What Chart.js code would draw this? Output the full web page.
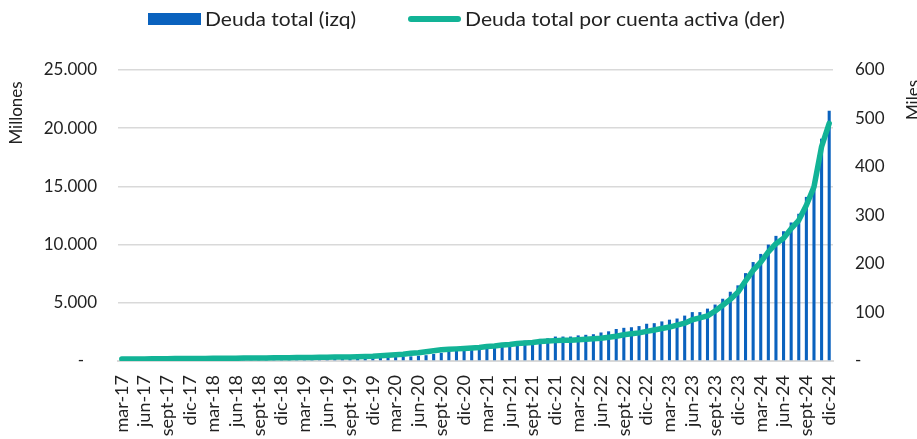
<!DOCTYPE html>
<html>
<head>
<meta charset="utf-8">
<script src="https://cdn.jsdelivr.net/npm/chart.js@4/dist/chart.umd.min.js"></script>
<style>
  html, body { margin: 0; padding: 0; background: #fff; }
  #wrap { width: 917px; height: 439px; }
</style>
</head>
<body>
<div id="wrap"><canvas id="chart"></canvas></div>
<script>
const meses = ['ene', 'feb', 'mar', 'abr', 'may', 'jun', 'jul', 'ago', 'sept', 'oct', 'nov', 'dic'];
const anios = ['17', '18', '19', '20', '21', '22', '23', '24'];

// Deuda total, millones (eje izquierdo), mar-17 .. dic-24
const deudaTotal = [
    90, 95, 100, 105, 110, 115, 120, 125, 130, 135,
    140, 145, 150, 155, 160, 165, 170, 175, 180, 185, 190, 195,
    200, 205, 210, 215, 220, 225, 230, 240, 250, 260, 270, 285,
    300, 320, 340, 360, 400, 450, 500, 600, 700, 800, 900, 950,
    1000, 1100, 1300, 1350, 1500, 1550, 1650, 1750, 1800, 1900, 1950, 2100,
    2100, 2100, 2200, 2250, 2300, 2450, 2550, 2750, 2850, 2900, 3000, 3200,
    3250, 3400, 3550, 3650, 3900, 4200, 4200, 4500, 4850, 5350, 5950, 6500,
    7550, 8500, 9200, 10000, 10750, 11150, 11900, 12650, 14100, 14900, 19100, 21500
];

// Deuda total por cuenta activa, miles (eje derecho)
const deudaPorCuenta = [
    4, 4, 4, 4, 4.5, 4.5, 4.5, 5, 5, 5,
    5, 5, 5.5, 5.5, 5.5, 5.5, 6, 6, 6, 6, 6.5, 6.5,
    6.5, 7, 7, 7, 7.5, 7.5, 8, 8, 8.5, 9, 9.5, 10,
    11, 12, 13, 14, 16, 17, 19, 21, 23, 24, 25, 26,
    27, 28, 30, 31, 33, 34, 36, 37, 38, 40, 41, 42,
    43, 43, 44, 45, 46, 47, 49, 51, 54, 56, 58, 61,
    64, 67, 70, 74, 78, 85, 89, 93, 103, 115, 127, 142,
    165, 187, 204, 225, 242, 253, 273, 290, 321, 359, 442, 490
];

const labels = [];
anios.forEach((a, i) => {
    meses.forEach((m, j) => {
        if (i === 0 && j < 2) return;
        labels.push(m + '-' + a);
    });
});

const AZUL = '#0a62be';
const VERDE = '#12b396';
const TEXTO = '#222222';
const FUENTE = 'Lato, "Open Sans", sans-serif';

function miles(v) {
    return String(v).replace(/\B(?=(\d{3})+(?!\d))/g, '.');
}

// ajusta el ancho del texto al de la leyenda original
function textoAncho(ctx, txt, x, y, ancho) {
    const w = ctx.measureText(txt).width;
    ctx.save();
    ctx.translate(x, y);
    ctx.scale(ancho / w, 1);
    ctx.fillText(txt, 0, 0);
    ctx.restore();
}

// leyenda y titulos de ejes dibujados a mano
const extras = {
    id: 'extras',
    afterDraw(chart) {
        const ctx = chart.ctx;
        ctx.save();
        ctx.fillStyle = AZUL;
        ctx.fillRect(148, 13, 53, 12);
        ctx.strokeStyle = VERDE;
        ctx.lineWidth = 6;
        ctx.lineCap = 'round';
        ctx.beginPath();
        ctx.moveTo(411, 19);
        ctx.lineTo(458, 19);
        ctx.stroke();

        ctx.fillStyle = TEXTO;
        ctx.font = '19px ' + FUENTE;
        ctx.textBaseline = 'middle';
        ctx.textAlign = 'left';
        textoAncho(ctx, 'Deuda total (izq)', 205, 20, 151);
        textoAncho(ctx, 'Deuda total por cuenta activa (der)', 465, 20, 320);

        ctx.font = '17px ' + FUENTE;
        ctx.textAlign = 'center';
        ctx.translate(17, 113);
        ctx.rotate(-Math.PI / 2);
        ctx.fillText('Millones', 0, 0);
        ctx.restore();

        ctx.save();
        ctx.fillStyle = TEXTO;
        ctx.font = '17px ' + FUENTE;
        ctx.textBaseline = 'middle';
        ctx.textAlign = 'center';
        ctx.translate(914, 100);
        ctx.rotate(-Math.PI / 2);
        ctx.fillText('Miles', 0, 0);
        ctx.restore();
    }
};

const ctx = document.getElementById('chart').getContext('2d');
new Chart(ctx, {
    data: {
        labels: labels,
        datasets: [{
            type: 'line',
            label: 'Deuda total por cuenta activa (der)',
            data: deudaPorCuenta,
            yAxisID: 'yDer',
            borderColor: VERDE,
            backgroundColor: VERDE,
            borderWidth: 5.5,
            borderJoinStyle: 'round',
            borderCapStyle: 'round',
            pointRadius: 0,
            tension: 0,
            order: 0
        }, {
            type: 'bar',
            label: 'Deuda total (izq)',
            data: deudaTotal,
            yAxisID: 'yIzq',
            backgroundColor: AZUL,
            barPercentage: 0.45,
            categoryPercentage: 0.9,
            order: 1
        }]
    },
    options: {
        responsive: true,
        maintainAspectRatio: false,
        animation: false,
        layout: { padding: { top: 70, left: 0, right: 0, bottom: 0 } },
        plugins: {
            legend: { display: false },
            tooltip: { enabled: false }
        },
        scales: {
            x: {
                grid: { display: false },
                border: { color: '#d9d9d9', width: 2 },
                ticks: {
                    autoSkip: false,
                    minRotation: 90,
                    maxRotation: 90,
                    padding: 6,
                    color: TEXTO,
                    font: { family: FUENTE, size: 18 },
                    callback: function (v, i) {
                        return i % 3 === 0 ? this.getLabelForValue(v) : '';
                    }
                },
                afterFit: s => { s.height = 78; }
            },
            yIzq: {
                position: 'left',
                min: 0,
                max: 25000,
                grid: { color: '#d9d9d9', lineWidth: 1.5, drawTicks: false },
                border: { display: false },
                ticks: {
                    stepSize: 5000,
                    padding: 21,
                    color: TEXTO,
                    font: { family: FUENTE, size: 17 },
                    callback: v => v === 0 ? '-   ' : miles(v)
                },
                afterFit: s => { s.width = 118; }
            },
            yDer: {
                position: 'right',
                min: 0,
                max: 600,
                grid: { display: false, drawTicks: false },
                border: { display: false },
                ticks: {
                    stepSize: 100,
                    padding: 22,
                    color: TEXTO,
                    font: { family: FUENTE, size: 17 },
                    callback: v => v === 0 ? '-' : String(v)
                },
                afterFit: s => { s.width = 84; }
            }
        }
    },
    plugins: [extras]
});
</script>
</body>
</html>
